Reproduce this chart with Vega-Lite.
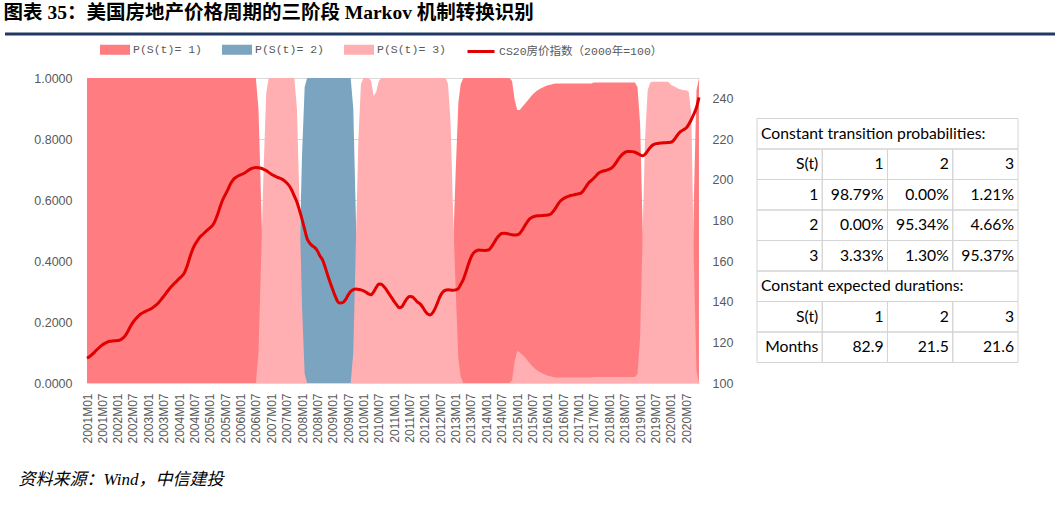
{
"$schema":"https://vega.github.io/schema/vega-lite/v6.json",
"background":"white",
"padding":{"left":3,"top":3,"right":0,"bottom":0},
"autosize":{"type":"pad"},
"config":{"view":{"stroke":null},"font":"Liberation Sans"},
"datasets":{
"m":[
{"d":"2001-01","p1":1,"p2":0,"p3":0,"v":112.2},{"d":"2001-02","p1":1,"p2":0,"p3":0,"v":113.0},{"d":"2001-03","p1":1,"p2":0,"p3":0,"v":114.0},{"d":"2001-04","p1":1,"p2":0,"p3":0,"v":115.2},{"d":"2001-05","p1":1,"p2":0,"p3":0,"v":116.5},{"d":"2001-06","p1":1,"p2":0,"p3":0,"v":117.7},{"d":"2001-07","p1":1,"p2":0,"p3":0,"v":118.7},{"d":"2001-08","p1":1,"p2":0,"p3":0,"v":119.5},{"d":"2001-09","p1":1,"p2":0,"p3":0,"v":120.1},{"d":"2001-10","p1":1,"p2":0,"p3":0,"v":120.5},{"d":"2001-11","p1":1,"p2":0,"p3":0,"v":120.7},{"d":"2001-12","p1":1,"p2":0,"p3":0,"v":120.8},
{"d":"2002-01","p1":1,"p2":0,"p3":0,"v":120.9},{"d":"2002-02","p1":1,"p2":0,"p3":0,"v":121.2},{"d":"2002-03","p1":1,"p2":0,"p3":0,"v":122.0},{"d":"2002-04","p1":1,"p2":0,"p3":0,"v":123.3},{"d":"2002-05","p1":1,"p2":0,"p3":0,"v":125.3},{"d":"2002-06","p1":1,"p2":0,"p3":0,"v":127.8},{"d":"2002-07","p1":1,"p2":0,"p3":0,"v":129.8},{"d":"2002-08","p1":1,"p2":0,"p3":0,"v":131.5},{"d":"2002-09","p1":1,"p2":0,"p3":0,"v":132.8},{"d":"2002-10","p1":1,"p2":0,"p3":0,"v":133.9},{"d":"2002-11","p1":1,"p2":0,"p3":0,"v":134.7},{"d":"2002-12","p1":1,"p2":0,"p3":0,"v":135.3},
{"d":"2003-01","p1":1,"p2":0,"p3":0,"v":135.9},{"d":"2003-02","p1":1,"p2":0,"p3":0,"v":136.5},{"d":"2003-03","p1":1,"p2":0,"p3":0,"v":137.3},{"d":"2003-04","p1":1,"p2":0,"p3":0,"v":138.3},{"d":"2003-05","p1":1,"p2":0,"p3":0,"v":139.5},{"d":"2003-06","p1":1,"p2":0,"p3":0,"v":141.0},{"d":"2003-07","p1":1,"p2":0,"p3":0,"v":142.6},{"d":"2003-08","p1":1,"p2":0,"p3":0,"v":144.3},{"d":"2003-09","p1":1,"p2":0,"p3":0,"v":146.0},{"d":"2003-10","p1":1,"p2":0,"p3":0,"v":147.4},{"d":"2003-11","p1":1,"p2":0,"p3":0,"v":148.8},{"d":"2003-12","p1":1,"p2":0,"p3":0,"v":150.0},
{"d":"2004-01","p1":1,"p2":0,"p3":0,"v":151.3},{"d":"2004-02","p1":1,"p2":0,"p3":0,"v":152.5},{"d":"2004-03","p1":1,"p2":0,"p3":0,"v":154.0},{"d":"2004-04","p1":1,"p2":0,"p3":0,"v":157.0},{"d":"2004-05","p1":1,"p2":0,"p3":0,"v":161.0},{"d":"2004-06","p1":1,"p2":0,"p3":0,"v":164.8},{"d":"2004-07","p1":1,"p2":0,"p3":0,"v":167.6},{"d":"2004-08","p1":1,"p2":0,"p3":0,"v":169.7},{"d":"2004-09","p1":1,"p2":0,"p3":0,"v":171.6},{"d":"2004-10","p1":1,"p2":0,"p3":0,"v":172.8},{"d":"2004-11","p1":1,"p2":0,"p3":0,"v":174.0},{"d":"2004-12","p1":1,"p2":0,"p3":0,"v":175.2},
{"d":"2005-01","p1":1,"p2":0,"p3":0,"v":176.3},{"d":"2005-02","p1":1,"p2":0,"p3":0,"v":177.5},{"d":"2005-03","p1":1,"p2":0,"p3":0,"v":179.5},{"d":"2005-04","p1":1,"p2":0,"p3":0,"v":182.8},{"d":"2005-05","p1":1,"p2":0,"p3":0,"v":186.5},{"d":"2005-06","p1":1,"p2":0,"p3":0,"v":190.0},{"d":"2005-07","p1":1,"p2":0,"p3":0,"v":192.5},{"d":"2005-08","p1":1,"p2":0,"p3":0,"v":195.0},{"d":"2005-09","p1":1,"p2":0,"p3":0,"v":197.8},{"d":"2005-10","p1":1,"p2":0,"p3":0,"v":199.8},{"d":"2005-11","p1":1,"p2":0,"p3":0,"v":201.0},{"d":"2005-12","p1":1,"p2":0,"p3":0,"v":201.8},
{"d":"2006-01","p1":1,"p2":0,"p3":0,"v":202.4},{"d":"2006-02","p1":1,"p2":0,"p3":0,"v":202.9},{"d":"2006-03","p1":1,"p2":0,"p3":0,"v":203.6},{"d":"2006-04","p1":1,"p2":0,"p3":0,"v":204.5},{"d":"2006-05","p1":1,"p2":0,"p3":0,"v":205.3},{"d":"2006-06","p1":1,"p2":0,"p3":0,"v":205.8},{"d":"2006-07","p1":1,"p2":0,"p3":0,"v":206.0},{"d":"2006-08","p1":0.9,"p2":0,"p3":0.1,"v":205.9},{"d":"2006-09","p1":0.6,"p2":0,"p3":0.4,"v":205.6},{"d":"2006-10","p1":0.3,"p2":0,"p3":0.7,"v":205.1},{"d":"2006-11","p1":0.05,"p2":0,"p3":0.95,"v":204.5},{"d":"2006-12","p1":0,"p2":0,"p3":1,"v":203.6},
{"d":"2007-01","p1":0,"p2":0,"p3":1,"v":202.7},{"d":"2007-02","p1":0,"p2":0,"p3":1,"v":202.0},{"d":"2007-03","p1":0,"p2":0,"p3":1,"v":201.4},{"d":"2007-04","p1":0,"p2":0,"p3":1,"v":200.9},{"d":"2007-05","p1":0,"p2":0,"p3":1,"v":200.4},{"d":"2007-06","p1":0,"p2":0,"p3":1,"v":199.6},{"d":"2007-07","p1":0,"p2":0,"p3":1,"v":198.5},{"d":"2007-08","p1":0,"p2":0,"p3":1,"v":197.0},{"d":"2007-09","p1":0,"p2":0,"p3":1,"v":194.8},{"d":"2007-10","p1":0,"p2":0,"p3":1,"v":192.0},{"d":"2007-11","p1":0,"p2":0.1,"p3":0.9,"v":189.0},{"d":"2007-12","p1":0,"p2":0.4,"p3":0.6,"v":185.0},
{"d":"2008-01","p1":0,"p2":0.75,"p3":0.25,"v":180.5},{"d":"2008-02","p1":0,"p2":0.97,"p3":0.03,"v":175.5},{"d":"2008-03","p1":0,"p2":1,"p3":0,"v":171.0},{"d":"2008-04","p1":0,"p2":1,"p3":0,"v":168.8},{"d":"2008-05","p1":0,"p2":1,"p3":0,"v":167.5},{"d":"2008-06","p1":0,"p2":1,"p3":0,"v":166.6},{"d":"2008-07","p1":0,"p2":1,"p3":0,"v":165.0},{"d":"2008-08","p1":0,"p2":1,"p3":0,"v":162.5},{"d":"2008-09","p1":0,"p2":1,"p3":0,"v":160.5},{"d":"2008-10","p1":0,"p2":1,"p3":0,"v":157.0},{"d":"2008-11","p1":0,"p2":1,"p3":0,"v":153.0},{"d":"2008-12","p1":0,"p2":1,"p3":0,"v":149.3},
{"d":"2009-01","p1":0,"p2":1,"p3":0,"v":145.8},{"d":"2009-02","p1":0,"p2":1,"p3":0,"v":142.5},{"d":"2009-03","p1":0,"p2":1,"p3":0,"v":140.0},{"d":"2009-04","p1":0,"p2":1,"p3":0,"v":139.3},{"d":"2009-05","p1":0,"p2":1,"p3":0,"v":139.6},{"d":"2009-06","p1":0,"p2":1,"p3":0,"v":141.0},{"d":"2009-07","p1":0,"p2":1,"p3":0,"v":143.2},{"d":"2009-08","p1":0,"p2":1,"p3":0,"v":145.0},{"d":"2009-09","p1":0,"p2":0.9,"p3":0.1,"v":145.9},{"d":"2009-10","p1":0,"p2":0.55,"p3":0.45,"v":146.2},{"d":"2009-11","p1":0,"p2":0.2,"p3":0.8,"v":146.0},{"d":"2009-12","p1":0,"p2":0.02,"p3":0.98,"v":145.8},
{"d":"2010-01","p1":0,"p2":0,"p3":1,"v":145.3},{"d":"2010-02","p1":0,"p2":0,"p3":1,"v":144.6},{"d":"2010-03","p1":0,"p2":0,"p3":1,"v":143.8},{"d":"2010-04","p1":0.01,"p2":0,"p3":0.99,"v":143.4},{"d":"2010-05","p1":0.06,"p2":0,"p3":0.94,"v":144.8},{"d":"2010-06","p1":0.045,"p2":0,"p3":0.955,"v":147.0},{"d":"2010-07","p1":0.01,"p2":0,"p3":0.99,"v":148.7},{"d":"2010-08","p1":0,"p2":0,"p3":1,"v":148.6},{"d":"2010-09","p1":0,"p2":0,"p3":1,"v":147.3},{"d":"2010-10","p1":0,"p2":0,"p3":1,"v":145.8},{"d":"2010-11","p1":0,"p2":0,"p3":1,"v":143.8},{"d":"2010-12","p1":0,"p2":0,"p3":1,"v":142.0},
{"d":"2011-01","p1":0,"p2":0,"p3":1,"v":140.0},{"d":"2011-02","p1":0,"p2":0,"p3":1,"v":138.3},{"d":"2011-03","p1":0,"p2":0,"p3":1,"v":137.0},{"d":"2011-04","p1":0,"p2":0,"p3":1,"v":137.5},{"d":"2011-05","p1":0,"p2":0,"p3":1,"v":139.5},{"d":"2011-06","p1":0,"p2":0,"p3":1,"v":141.5},{"d":"2011-07","p1":0,"p2":0,"p3":1,"v":142.6},{"d":"2011-08","p1":0,"p2":0,"p3":1,"v":142.4},{"d":"2011-09","p1":0,"p2":0,"p3":1,"v":141.3},{"d":"2011-10","p1":0,"p2":0,"p3":1,"v":139.9},{"d":"2011-11","p1":0,"p2":0,"p3":1,"v":139.0},{"d":"2011-12","p1":0,"p2":0,"p3":1,"v":137.5},
{"d":"2012-01","p1":0,"p2":0,"p3":1,"v":135.5},{"d":"2012-02","p1":0,"p2":0,"p3":1,"v":134.0},{"d":"2012-03","p1":0,"p2":0,"p3":1,"v":133.5},{"d":"2012-04","p1":0,"p2":0,"p3":1,"v":134.5},{"d":"2012-05","p1":0,"p2":0,"p3":1,"v":136.7},{"d":"2012-06","p1":0,"p2":0,"p3":1,"v":139.8},{"d":"2012-07","p1":0,"p2":0,"p3":1,"v":142.8},{"d":"2012-08","p1":0,"p2":0,"p3":1,"v":144.8},{"d":"2012-09","p1":0,"p2":0,"p3":1,"v":145.6},{"d":"2012-10","p1":0.02,"p2":0,"p3":0.98,"v":145.8},{"d":"2012-11","p1":0.15,"p2":0,"p3":0.85,"v":145.7},{"d":"2012-12","p1":0.45,"p2":0,"p3":0.55,"v":145.6},
{"d":"2013-01","p1":0.7,"p2":0,"p3":0.3,"v":145.8},{"d":"2013-02","p1":0.92,"p2":0,"p3":0.08,"v":146.5},{"d":"2013-03","p1":0.98,"p2":0,"p3":0.02,"v":148.5},{"d":"2013-04","p1":1,"p2":0,"p3":0,"v":151.0},{"d":"2013-05","p1":1,"p2":0,"p3":0,"v":154.5},{"d":"2013-06","p1":1,"p2":0,"p3":0,"v":158.5},{"d":"2013-07","p1":1,"p2":0,"p3":0,"v":161.8},{"d":"2013-08","p1":1,"p2":0,"p3":0,"v":164.0},{"d":"2013-09","p1":1,"p2":0,"p3":0,"v":165.0},{"d":"2013-10","p1":1,"p2":0,"p3":0,"v":165.4},{"d":"2013-11","p1":1,"p2":0,"p3":0,"v":165.3},{"d":"2013-12","p1":1,"p2":0,"p3":0,"v":165.2},
{"d":"2014-01","p1":1,"p2":0,"p3":0,"v":165.3},{"d":"2014-02","p1":1,"p2":0,"p3":0,"v":165.6},{"d":"2014-03","p1":1,"p2":0,"p3":0,"v":167.0},{"d":"2014-04","p1":1,"p2":0,"p3":0,"v":169.0},{"d":"2014-05","p1":1,"p2":0,"p3":0,"v":171.0},{"d":"2014-06","p1":1,"p2":0,"p3":0,"v":172.6},{"d":"2014-07","p1":1,"p2":0,"p3":0,"v":173.5},{"d":"2014-08","p1":1,"p2":0,"p3":0,"v":173.7},{"d":"2014-09","p1":1,"p2":0,"p3":0,"v":173.5},{"d":"2014-10","p1":1,"p2":0,"p3":0,"v":173.2},{"d":"2014-11","p1":0.99,"p2":0,"p3":0.01,"v":172.9},{"d":"2014-12","p1":0.93,"p2":0,"p3":0.07,"v":172.8},
{"d":"2015-01","p1":0.895,"p2":0,"p3":0.105,"v":172.9},{"d":"2015-02","p1":0.895,"p2":0,"p3":0.1,"v":173.6},{"d":"2015-03","p1":0.905,"p2":0,"p3":0.093,"v":175.2},{"d":"2015-04","p1":0.915,"p2":0,"p3":0.085,"v":177.3},{"d":"2015-05","p1":0.925,"p2":0,"p3":0.075,"v":179.3},{"d":"2015-06","p1":0.935,"p2":0,"p3":0.065,"v":180.8},{"d":"2015-07","p1":0.945,"p2":0,"p3":0.055,"v":181.6},{"d":"2015-08","p1":0.953,"p2":0,"p3":0.047,"v":182.0},{"d":"2015-09","p1":0.96,"p2":0,"p3":0.04,"v":182.2},{"d":"2015-10","p1":0.965,"p2":0,"p3":0.035,"v":182.3},{"d":"2015-11","p1":0.969,"p2":0,"p3":0.031,"v":182.4},{"d":"2015-12","p1":0.973,"p2":0,"p3":0.027,"v":182.5},
{"d":"2016-01","p1":0.976,"p2":0,"p3":0.024,"v":182.6},{"d":"2016-02","p1":0.978,"p2":0,"p3":0.022,"v":183.0},{"d":"2016-03","p1":0.98,"p2":0,"p3":0.02,"v":184.2},{"d":"2016-04","p1":0.982,"p2":0,"p3":0.018,"v":186.0},{"d":"2016-05","p1":0.982,"p2":0,"p3":0.018,"v":188.0},{"d":"2016-06","p1":0.982,"p2":0,"p3":0.018,"v":189.6},{"d":"2016-07","p1":0.982,"p2":0,"p3":0.018,"v":190.6},{"d":"2016-08","p1":0.982,"p2":0,"p3":0.018,"v":191.3},{"d":"2016-09","p1":0.982,"p2":0,"p3":0.018,"v":191.8},{"d":"2016-10","p1":0.982,"p2":0,"p3":0.018,"v":192.2},{"d":"2016-11","p1":0.982,"p2":0,"p3":0.018,"v":192.5},{"d":"2016-12","p1":0.982,"p2":0,"p3":0.018,"v":192.8},
{"d":"2017-01","p1":0.982,"p2":0,"p3":0.018,"v":193.1},{"d":"2017-02","p1":0.982,"p2":0,"p3":0.018,"v":193.5},{"d":"2017-03","p1":0.982,"p2":0,"p3":0.018,"v":194.8},{"d":"2017-04","p1":0.982,"p2":0,"p3":0.018,"v":196.7},{"d":"2017-05","p1":0.982,"p2":0,"p3":0.018,"v":198.5},{"d":"2017-06","p1":0.982,"p2":0,"p3":0.018,"v":199.6},{"d":"2017-07","p1":0.985,"p2":0,"p3":0.02,"v":200.8},{"d":"2017-08","p1":0.985,"p2":0,"p3":0.02,"v":202.2},{"d":"2017-09","p1":0.985,"p2":0,"p3":0.02,"v":203.4},{"d":"2017-10","p1":0.985,"p2":0,"p3":0.02,"v":204.0},{"d":"2017-11","p1":0.985,"p2":0,"p3":0.02,"v":204.4},{"d":"2017-12","p1":0.985,"p2":0,"p3":0.02,"v":204.7},
{"d":"2018-01","p1":0.985,"p2":0,"p3":0.02,"v":205.2},{"d":"2018-02","p1":0.985,"p2":0,"p3":0.02,"v":205.9},{"d":"2018-03","p1":0.985,"p2":0,"p3":0.02,"v":207.2},{"d":"2018-04","p1":0.985,"p2":0,"p3":0.02,"v":209.0},{"d":"2018-05","p1":0.985,"p2":0,"p3":0.02,"v":210.8},{"d":"2018-06","p1":0.985,"p2":0,"p3":0.02,"v":212.3},{"d":"2018-07","p1":0.985,"p2":0,"p3":0.02,"v":213.3},{"d":"2018-08","p1":0.985,"p2":0,"p3":0.02,"v":213.8},{"d":"2018-09","p1":0.985,"p2":0,"p3":0.02,"v":213.9},{"d":"2018-10","p1":0.985,"p2":0,"p3":0.02,"v":213.8},{"d":"2018-11","p1":0.985,"p2":0,"p3":0.02,"v":213.5},{"d":"2018-12","p1":0.97,"p2":0,"p3":0.03,"v":212.9},
{"d":"2019-01","p1":0.85,"p2":0,"p3":0.15,"v":212.2},{"d":"2019-02","p1":0.5,"p2":0,"p3":0.5,"v":211.8},{"d":"2019-03","p1":0.2,"p2":0,"p3":0.8,"v":212.5},{"d":"2019-04","p1":0.04,"p2":0,"p3":0.96,"v":214.2},{"d":"2019-05","p1":0.012,"p2":0,"p3":0.985,"v":215.8},{"d":"2019-06","p1":0.01,"p2":0,"p3":0.988,"v":217.0},{"d":"2019-07","p1":0.01,"p2":0,"p3":0.988,"v":217.6},{"d":"2019-08","p1":0.01,"p2":0,"p3":0.988,"v":217.8},{"d":"2019-09","p1":0.01,"p2":0,"p3":0.988,"v":218.0},{"d":"2019-10","p1":0.01,"p2":0,"p3":0.988,"v":218.1},{"d":"2019-11","p1":0.01,"p2":0,"p3":0.988,"v":218.2},{"d":"2019-12","p1":0.01,"p2":0,"p3":0.988,"v":218.3},
{"d":"2020-01","p1":0.02,"p2":0,"p3":0.978,"v":218.4},{"d":"2020-02","p1":0.025,"p2":0,"p3":0.974,"v":219.2},{"d":"2020-03","p1":0.03,"p2":0,"p3":0.97,"v":220.8},{"d":"2020-04","p1":0.035,"p2":0,"p3":0.965,"v":222.6},{"d":"2020-05","p1":0.038,"p2":0,"p3":0.962,"v":223.8},{"d":"2020-06","p1":0.04,"p2":0,"p3":0.96,"v":224.6},{"d":"2020-07","p1":0.04,"p2":0,"p3":0.96,"v":225.4},{"d":"2020-08","p1":0.045,"p2":0,"p3":0.955,"v":227.2},{"d":"2020-09","p1":0.12,"p2":0,"p3":0.88,"v":229.6},{"d":"2020-10","p1":0.6,"p2":0,"p3":0.4,"v":232.3},{"d":"2020-11","p1":0.96,"p2":0,"p3":0.04,"v":235.5},{"d":"2020-12","p1":1,"p2":0,"p3":0,"v":240.5}
],
"tbl":[
{"r":0,"c":0,"c2":4,"t":"Constant transition probabilities:","k":"h"},
{"r":1,"c":0,"c2":1,"t":"S(t)","k":"n"},{"r":1,"c":1,"c2":2,"t":"1","k":"n"},{"r":1,"c":2,"c2":3,"t":"2","k":"n"},{"r":1,"c":3,"c2":4,"t":"3","k":"n"},
{"r":2,"c":0,"c2":1,"t":"1","k":"n"},{"r":2,"c":1,"c2":2,"t":"98.79%","k":"n"},{"r":2,"c":2,"c2":3,"t":"0.00%","k":"n"},{"r":2,"c":3,"c2":4,"t":"1.21%","k":"n"},
{"r":3,"c":0,"c2":1,"t":"2","k":"n"},{"r":3,"c":1,"c2":2,"t":"0.00%","k":"n"},{"r":3,"c":2,"c2":3,"t":"95.34%","k":"n"},{"r":3,"c":3,"c2":4,"t":"4.66%","k":"n"},
{"r":4,"c":0,"c2":1,"t":"3","k":"n"},{"r":4,"c":1,"c2":2,"t":"3.33%","k":"n"},{"r":4,"c":2,"c2":3,"t":"1.30%","k":"n"},{"r":4,"c":3,"c2":4,"t":"95.37%","k":"n"},
{"r":5,"c":0,"c2":4,"t":"Constant expected durations:","k":"h"},
{"r":6,"c":0,"c2":1,"t":"S(t)","k":"n"},{"r":6,"c":1,"c2":2,"t":"1","k":"n"},{"r":6,"c":2,"c2":3,"t":"2","k":"n"},{"r":6,"c":3,"c2":4,"t":"3","k":"n"},
{"r":7,"c":0,"c2":1,"t":"Months","k":"n"},{"r":7,"c":1,"c2":2,"t":"82.9","k":"n"},{"r":7,"c":2,"c2":3,"t":"21.5","k":"n"},{"r":7,"c":3,"c2":4,"t":"21.6","k":"n"}
]
},
"bounds":"flush",
"spacing":43,
"vconcat":[
{
"width":612,"height":1,
"title":{"text":"图表 35：美国房地产价格周期的三阶段 Markov 机制转换识别","anchor":"start","offset":9,"font":"Liberation Serif, Noto Sans CJK SC","fontSize":19.5,"fontWeight":"bold","color":"#000000"},
"data":{"values":[{}]},
"mark":{"type":"rule","color":"#1F3864","strokeWidth":3},
"encoding":{"x":{"value":-82},"x2":{"value":968},"y":{"value":0}}
},
{
"bounds":"flush",
"spacing":58,
"hconcat":[
{
"width":612,"height":305,
"data":{"name":"m"},
"layer":[
{
"layer":[
{
"mark":{"type":"area","interpolate":"linear"},
"encoding":{
"x":{"field":"d","type":"temporal","scale":{"type":"utc","nice":false},
"axis":{"title":"资料来源：Wind，中信建投","titleFont":"Liberation Serif, Noto Sans CJK SC","titleFontSize":17,"titleFontStyle":"italic","titleFontWeight":"normal","titleColor":"#000000","titleX":-69,"titleY":96,"titleAlign":"left","titleBaseline":"middle","titleAngle":0,
"labelExpr":"utcFormat(datum.value, '%YM%m')","tickCount":{"interval":"month","step":6},"labelAngle":270,"labelFont":"Liberation Sans","labelFontSize":12,"labelColor":"#595959","labelPadding":10,"labelOverlap":false,"labelFlush":false,"ticks":false,"grid":false,"domainColor":"#D9D9D9","domainWidth":1}},
"y":{"field":"p1","type":"quantitative","stack":null,"scale":{"domain":[0,1],"nice":false},
"axis":{"title":null,"values":[0,0.1,0.2,0.3,0.4,0.5,0.6,0.7,0.8,0.9,1],"format":".4f","grid":true,"gridColor":"#D9D9D9","gridWidth":1,"domain":false,"ticks":false,"labelFont":"Liberation Sans","labelFontSize":12.5,"labelColor":"#595959","labelPadding":15}},
"color":{"datum":"P(S(t)= 1)","type":"nominal",
"scale":{"domain":["P(S(t)= 1)","P(S(t)= 2)","P(S(t)= 3)","CS20房价指数（2000年=100）"],"range":["#FF7C80","#7BA4C0","#FFAEB1","#E00000"]},
"legend":{"orient":"none","legendX":13,"legendY":0.5,"direction":"horizontal","title":null,
"symbolType":"M-1,-0.26H1V0.26H-1Z","symbolSize":729,"symbolStrokeWidth":0,"symbolOpacity":1,
"labelFont":"Liberation Mono, Noto Sans CJK SC","labelFontSize":11.5,"labelColor":"#595959","labelOffset":3,"columnPadding":14,"labelLimit":400,
"encode":{"symbols":{"update":{
"shape":{"signal":"datum.value === 'CS20房价指数（2000年=100）' ? 'M-1,0H1' : 'M-1,-0.26H1V0.26H-1Z'"},
"fill":{"signal":"datum.value === 'P(S(t)= 1)' ? '#FF7C80' : datum.value === 'P(S(t)= 2)' ? '#7BA4C0' : datum.value === 'P(S(t)= 3)' ? '#FFAEB1' : 'transparent'"},
"stroke":{"signal":"datum.value === 'CS20房价指数（2000年=100）' ? '#E00000' : 'transparent'"},
"strokeWidth":{"value":3},"opacity":{"value":1}}}}}}
}
},
{
"mark":{"type":"area","interpolate":"linear"},
"encoding":{
"x":{"field":"d","type":"temporal"},
"y":{"field":"p2","type":"quantitative","stack":null},
"color":{"datum":"P(S(t)= 2)","type":"nominal"}
}
},
{
"mark":{"type":"area","interpolate":"linear"},
"encoding":{
"x":{"field":"d","type":"temporal"},
"y":{"field":"p3","type":"quantitative","stack":null},
"color":{"datum":"P(S(t)= 3)","type":"nominal"}
}
}
]
},
{
"mark":{"type":"line","interpolate":"monotone","strokeWidth":3},
"encoding":{
"x":{"field":"d","type":"temporal"},
"y":{"field":"v","type":"quantitative","scale":{"domain":[100,250],"nice":false,"zero":false},
"axis":{"orient":"right","title":null,"values":[100,120,140,160,180,200,220,240],"format":"d","grid":false,"domain":false,"ticks":false,"labelFont":"Liberation Sans","labelFontSize":12.5,"labelColor":"#595959","labelPadding":13}},
"color":{"datum":"CS20房价指数（2000年=100）","type":"nominal"}
}
}
],
"resolve":{"scale":{"y":"independent"}}
},
{
"width":261,"height":305,
"data":{"name":"tbl"},
"layer":[
{
"mark":{"type":"rect","fill":"transparent","stroke":"#D4D4D4","strokeWidth":1},
"encoding":{
"x":{"field":"c","type":"quantitative","scale":{"domain":[0,4],"nice":false,"zero":false},"axis":null},
"x2":{"field":"c2"},
"y":{"field":"r","type":"ordinal","scale":{"domain":[0,1,2,3,4,5,6,7],"paddingInner":0,"paddingOuter":2.46,"align":0.664},"axis":null}
}
},
{
"transform":[{"filter":"datum.k == 'h'"}],
"mark":{"type":"text","align":"left","baseline":"middle","dx":4,"font":"Lato","fontSize":15.7,"color":"#000000"},
"encoding":{
"x":{"field":"c","type":"quantitative"},
"y":{"field":"r","type":"ordinal"},
"text":{"field":"t"}
}
},
{
"transform":[{"filter":"datum.k == 'n'"}],
"mark":{"type":"text","align":"right","baseline":"middle","dx":-4,"font":"Lato","fontSize":15.7,"color":"#000000"},
"encoding":{
"x":{"field":"c2","type":"quantitative"},
"y":{"field":"r","type":"ordinal"},
"text":{"field":"t"}
}
}
]
}
]
}
]
}
